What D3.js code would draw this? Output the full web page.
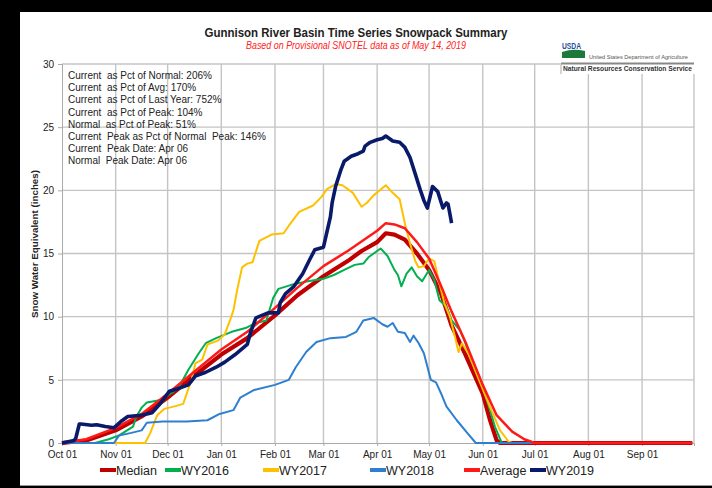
<!DOCTYPE html>
<html lang="en">
<head>
<meta charset="UTF-8">
<title>Gunnison River Basin Snowpack</title>
<script src="https://cdnjs.cloudflare.com/ajax/libs/d3/7.8.5/d3.min.js"></script>
<style>
  body { margin: 0; background: #000; }
  svg { display: block; font-family: "Liberation Sans", Arial, sans-serif; }
  .grid line { stroke: #c4c4c4; stroke-width: 1.4px; }
  .axis path, .axis line { stroke: #aaa; }
  .axis text { fill: #222; font-size: 10px; }
  .stats text { font-size: 10px; fill: #222; }
</style>
</head>
<body>
<svg width="712" height="488"></svg>
<script>
// snow water equivalent (inches)
var median = [["2018-10-01",0],["2018-10-15",0.2],["2018-11-01",1.0],["2018-11-16",2.1],["2018-12-01",3.6],
  ["2018-12-16",5.3],["2019-01-01",7.0],["2019-01-16",8.3],["2019-02-01",10.1],["2019-02-14",11.7],
  ["2019-03-01",13.2],["2019-03-15",14.4],["2019-03-23",15.2],["2019-04-01",15.9],["2019-04-06",16.6],
  ["2019-04-11",16.5],["2019-04-17",16.1],["2019-04-24",15.0],["2019-05-01",13.7],["2019-05-08",11.8],
  ["2019-05-14",9.3],["2019-05-22",7.0],["2019-06-01",3.9],["2019-06-05",1.9],["2019-06-09",0.2],
  ["2019-06-11",0],["2019-09-30",0]];

var wy2016 = [["2018-10-01",0],["2018-10-20",0],["2018-10-28",0.3],["2018-11-03",0.6],["2018-11-11",1.3],
  ["2018-11-13",2.1],["2018-11-16",2.8],["2018-11-19",3.2],["2018-11-27",3.4],["2018-12-07",4.3],
  ["2018-12-13",5.8],["2018-12-19",7.1],["2018-12-23",7.9],["2018-12-29",8.3],["2019-01-07",8.8],
  ["2019-01-15",9.1],["2019-01-21",9.5],["2019-01-27",9.7],["2019-01-31",11.5],["2019-02-03",12.2],
  ["2019-02-10",12.5],["2019-02-20",12.8],["2019-03-01",13.0],["2019-03-07",13.3],["2019-03-13",13.7],
  ["2019-03-19",14.1],["2019-03-24",14.2],["2019-03-27",14.7],["2019-04-01",15.2],["2019-04-03",15.4],
  ["2019-04-07",14.8],["2019-04-11",13.7],["2019-04-13",13.3],["2019-04-15",12.4],["2019-04-18",13.4],
  ["2019-04-21",13.9],["2019-04-24",13.2],["2019-04-27",12.8],["2019-05-01",13.7],["2019-05-04",12.9],
  ["2019-05-07",11.3],["2019-05-11",10.8],["2019-05-14",9.7],["2019-05-19",8.9],["2019-05-22",7.9],
  ["2019-05-27",6.0],["2019-06-01",4.4],["2019-06-05",2.7],["2019-06-08",1.3],["2019-06-12",0],
  ["2019-09-30",0]];

var wy2017 = [["2018-10-01",0],["2018-11-18",0],["2018-11-21",0.8],["2018-11-25",2.2],["2018-11-29",2.7],
  ["2018-12-05",2.9],["2018-12-10",3.1],["2018-12-12",3.9],["2018-12-15",5.1],["2018-12-17",6.3],
  ["2018-12-21",6.6],["2018-12-24",7.8],["2018-12-30",8.1],["2019-01-03",8.6],["2019-01-06",9.7],
  ["2019-01-08",10.5],["2019-01-10",12.0],["2019-01-13",13.9],["2019-01-16",14.2],["2019-01-19",14.3],
  ["2019-01-23",16.0],["2019-01-30",16.5],["2019-02-06",16.6],["2019-02-09",17.2],["2019-02-15",18.3],
  ["2019-02-23",18.8],["2019-02-28",19.5],["2019-03-03",20.1],["2019-03-08",20.5],["2019-03-12",20.4],
  ["2019-03-18",19.8],["2019-03-23",18.7],["2019-03-26",19.0],["2019-03-30",19.6],["2019-04-06",20.4],
  ["2019-04-10",19.8],["2019-04-14",19.3],["2019-04-17",17.4],["2019-04-20",15.8],["2019-04-23",14.4],
  ["2019-04-25",13.9],["2019-04-28",14.0],["2019-05-01",14.6],["2019-05-04",14.4],["2019-05-07",12.6],
  ["2019-05-10",11.0],["2019-05-13",10.0],["2019-05-16",8.4],["2019-05-18",7.2],["2019-05-20",7.9],
  ["2019-05-24",7.0],["2019-05-28",5.6],["2019-06-05",2.9],["2019-06-11",1.0],["2019-06-16",0.1],
  ["2019-06-18",0],["2019-09-30",0]];

var wy2018 = [["2018-10-01",0],["2018-10-31",0],["2018-11-03",0.6],["2018-11-10",0.8],["2018-11-16",1.0],
  ["2018-11-19",1.6],["2018-11-28",1.7],["2018-12-12",1.7],["2018-12-24",1.8],["2018-12-31",2.3],
  ["2019-01-08",2.6],["2019-01-12",3.6],["2019-01-20",4.2],["2019-02-01",4.6],["2019-02-09",5.0],
  ["2019-02-13",6.0],["2019-02-19",7.2],["2019-02-25",8.0],["2019-03-05",8.3],["2019-03-14",8.4],
  ["2019-03-20",8.8],["2019-03-24",9.7],["2019-03-30",9.9],["2019-04-04",9.4],["2019-04-07",9.2],
  ["2019-04-10",9.5],["2019-04-13",8.8],["2019-04-17",8.7],["2019-04-20",8.0],["2019-04-22",8.5],
  ["2019-04-25",7.9],["2019-04-28",7.1],["2019-05-02",5.0],["2019-05-05",4.8],["2019-05-08",3.9],
  ["2019-05-11",2.9],["2019-05-17",1.8],["2019-05-23",0.8],["2019-05-28",0],["2019-09-30",0]];

var average = [["2018-10-01",0],["2018-10-15",0.3],["2018-11-01",1.2],["2018-11-16",2.3],["2018-12-01",3.9],
  ["2018-12-16",5.6],["2019-01-01",7.4],["2019-01-16",8.8],["2019-02-01",10.7],["2019-02-14",12.3],
  ["2019-03-01",14.0],["2019-03-15",15.2],["2019-04-01",16.8],["2019-04-06",17.4],["2019-04-11",17.3],
  ["2019-04-17",17.0],["2019-04-24",15.9],["2019-05-01",14.6],["2019-05-08",12.4],["2019-05-14",10.4],
  ["2019-05-22",8.0],["2019-06-01",4.6],["2019-06-09",2.2],["2019-06-18",0.9],["2019-06-25",0.3],
  ["2019-07-01",0],["2019-09-30",0]];

var wy2019 = [["2018-10-01",0],["2018-10-08",0.2],["2018-10-09",0.4],["2018-10-11",1.5],["2018-10-12",1.5],
  ["2018-10-18",1.4],["2018-10-21",1.45],["2018-10-26",1.3],["2018-10-31",1.2],["2018-11-04",1.7],
  ["2018-11-08",2.1],["2018-11-16",2.2],["2018-11-22",2.4],["2018-11-26",3.0],["2018-12-02",4.1],
  ["2018-12-07",4.3],["2018-12-13",4.6],["2018-12-17",5.3],["2018-12-23",5.6],["2018-12-29",6.0],
  ["2019-01-03",6.4],["2019-01-09",7.0],["2019-01-16",7.8],["2019-01-18",8.8],["2019-01-21",9.9],
  ["2019-01-28",10.3],["2019-02-03",10.3],["2019-02-04",11.1],["2019-02-07",11.8],["2019-02-12",12.4],
  ["2019-02-17",13.4],["2019-02-21",14.5],["2019-02-24",15.3],["2019-03-01",15.5],["2019-03-03",16.7],
  ["2019-03-05",17.9],["2019-03-06",19.0],["2019-03-08",20.3],["2019-03-11",21.6],["2019-03-13",22.3],
  ["2019-03-17",22.7],["2019-03-21",22.9],["2019-03-24",23.1],["2019-03-25",23.5],["2019-03-28",23.8],
  ["2019-04-01",24.0],["2019-04-04",24.1],["2019-04-06",24.3],["2019-04-10",23.9],["2019-04-14",23.8],
  ["2019-04-17",23.4],["2019-04-20",22.6],["2019-04-23",21.3],["2019-04-26",20.0],["2019-04-28",19.2],
  ["2019-04-30",18.6],["2019-05-03",20.3],["2019-05-06",19.9],["2019-05-09",18.6],["2019-05-11",19.0],
  ["2019-05-12",18.9],["2019-05-14",17.4]];

var seriesNames = ["Median", "WY2016", "WY2017", "WY2018", "Average", "WY2019"];
var seriesData = [median, wy2016, wy2017, wy2018, average, wy2019];
var seriesColors = ["#c00000", "#00b050", "#ffc000", "#2e7fd0", "#ff1a1a", "#0a1a6a"];
var seriesWidths = [4.2, 2, 2, 2, 2.5, 3.6];

var yTicks = [0, 5, 10, 15, 20, 25, 30];
var statLines = [
  "Current  as Pct of Normal: 206%",
  "Current  as Pct of Avg: 170%",
  "Current  as Pct of Last Year: 752%",
  "Current  as Pct of Peak: 104%",
  "Normal  as Pct of Peak: 51%",
  "Current  Peak as Pct of Normal  Peak: 146%",
  "Current  Peak Date: Apr 06",
  "Normal  Peak Date: Apr 06"
];

var parse = d3.timeParse("%Y-%m-%d");
var svg = d3.select("svg");

// page frame
svg.append("rect").attr("x", 20).attr("y", 12).attr("width", 692).attr("height", 474)
  .attr("fill", "#fff");
svg.append("line").attr("x1", 20).attr("x2", 712).attr("y1", 485.5).attr("y2", 485.5)
  .attr("stroke", "#999");

var plotL = 62, plotR = 694, plotT = 64, plotB = 443;

var x = d3.scaleTime()
  .domain([parse("2018-10-01"), parse("2019-10-01")])
  .range([plotL, plotR]);
var y = d3.scaleLinear().domain([0, 30]).range([plotB, plotT]);

var months = d3.timeMonth.range(parse("2018-10-01"), parse("2019-10-01"));

// grid
var grid = svg.append("g").attr("class", "grid");
grid.selectAll("line.h").data(yTicks.slice(1)).enter().append("line").attr("class", "h")
  .attr("x1", plotL).attr("x2", plotR)
  .attr("y1", function (d) { return y(d); }).attr("y2", function (d) { return y(d); });
grid.selectAll("line.v").data(months.slice(1).concat([parse("2019-10-01")])).enter().append("line").attr("class", "v")
  .attr("y1", plotT).attr("y2", plotB)
  .attr("x1", function (d) { return x(d); }).attr("x2", function (d) { return x(d); });

// axes
svg.append("g").attr("class", "axis")
  .attr("transform", "translate(0," + plotB + ")")
  .call(d3.axisBottom(x).tickValues(months).tickFormat(d3.timeFormat("%b %d")).tickSize(3).tickPadding(5));
svg.append("g").attr("class", "axis")
  .attr("transform", "translate(" + plotL + ",0)")
  .call(d3.axisLeft(y).tickValues(yTicks).tickSize(4).tickPadding(4));
svg.selectAll(".axis .domain").attr("stroke", "#999");

// series
var line = d3.line()
  .x(function (d) { return x(parse(d[0])); })
  .y(function (d) { return y(d[1]); });

svg.append("g").selectAll("path").data(seriesData).enter().append("path")
  .attr("d", line)
  .attr("fill", "none")
  .attr("stroke", function (d, i) { return seriesColors[i]; })
  .attr("stroke-width", function (d, i) { return seriesWidths[i]; })
  .attr("stroke-linejoin", "round");

// stats box
svg.append("g").attr("class", "stats")
  .selectAll("text").data(statLines).enter().append("text")
  .attr("x", 68)
  .attr("y", function (d, i) { return 79 + i * 12.2; })
  .style("white-space", "pre")
  .text(function (d) { return d; });

// titles
svg.append("text").attr("x", 356).attr("y", 37).attr("text-anchor", "middle")
  .attr("font-size", 13).attr("font-weight", "bold").attr("fill", "#222")
  .attr("textLength", 303).attr("lengthAdjust", "spacingAndGlyphs")
  .text("Gunnison River Basin Time Series  Snowpack Summary");
svg.append("text").attr("x", 356).attr("y", 49).attr("text-anchor", "middle")
  .attr("font-size", 10).attr("font-style", "italic").attr("fill", "#ff2020")
  .attr("textLength", 220).attr("lengthAdjust", "spacingAndGlyphs")
  .text("Based on Provisional SNOTEL data as of May 14, 2019");

svg.append("text")
  .attr("transform", "translate(38,244) rotate(-90)")
  .attr("text-anchor", "middle").attr("font-size", 9.5).attr("font-weight", "bold").attr("fill", "#222")
  .attr("textLength", 148).attr("lengthAdjust", "spacingAndGlyphs")
  .text("Snow Water Equivalent (inches)");

// USDA / NRCS block
var logo = svg.append("g");
logo.append("rect").attr("x", 560).attr("y", 38).attr("width", 136).attr("height", 36).attr("fill", "#fff");
logo.append("text").attr("x", 562).attr("y", 49).attr("font-size", 9).attr("font-weight", "bold")
  .attr("fill", "#1f4e9c").attr("textLength", 19).attr("lengthAdjust", "spacingAndGlyphs").text("USDA");
logo.append("path").attr("d", "M562,52 Q573,48 585,51 L585,58 L562,58 Z").attr("fill", "#1b7a3a");
logo.append("text").attr("x", 589).attr("y", 59).attr("font-size", 4.5).attr("fill", "#555")
  .attr("textLength", 99).attr("lengthAdjust", "spacingAndGlyphs").text("United States Department of Agriculture");
logo.append("line").attr("x1", 561).attr("x2", 694).attr("y1", 63.5).attr("y2", 63.5)
  .attr("stroke", "#888").attr("stroke-width", 2);
logo.append("line").attr("x1", 561).attr("x2", 561).attr("y1", 63).attr("y2", 74)
  .attr("stroke", "#aaa");
logo.append("text").attr("x", 563).attr("y", 71).attr("font-size", 6.5).attr("font-weight", "bold")
  .attr("fill", "#333").attr("textLength", 129).attr("lengthAdjust", "spacingAndGlyphs")
  .text("Natural Resources Conservation Service");

// legend
var legendX = [100, 165, 263, 370, 464, 530];
var legend = svg.append("g").selectAll("g").data(seriesNames).enter().append("g")
  .attr("transform", function (d, i) { return "translate(" + legendX[i] + ",470)"; });
legend.append("line").attr("x1", 0).attr("x2", 16)
  .attr("stroke", function (d, i) { return seriesColors[i]; }).attr("stroke-width", 4);
legend.append("text").attr("x", 16).attr("y", 4.5).attr("font-size", 12.5).attr("fill", "#222")
  .text(function (d) { return d; });
</script>
</body>
</html>
